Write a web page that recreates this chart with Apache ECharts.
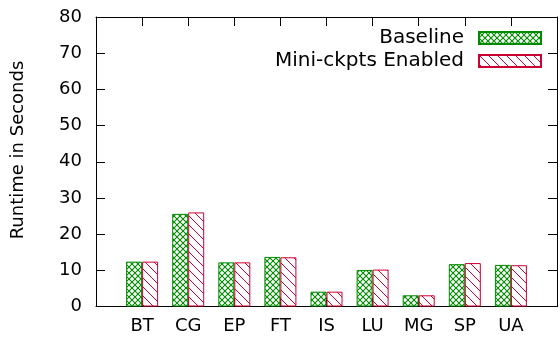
<!DOCTYPE html>
<html>
<head>
<meta charset="utf-8">
<script src="https://cdn.jsdelivr.net/npm/echarts@6/dist/echarts.min.js"></script>
<style>
  html, body { margin: 0; padding: 0; background: #fff; }
  #chart { width: 560px; height: 340px; }
</style>
</head>
<body>
<div id="chart"></div>
<script>
// Benchmarks and measured runtimes (seconds)
const categories = ['BT', 'CG', 'EP', 'FT', 'IS', 'LU', 'MG', 'SP', 'UA'];
const baseline = [12.4, 25.6, 12.2, 13.7, 4.1, 10.1, 3.1, 11.7, 11.5];
const miniCkpts = [12.4, 26.0, 12.2, 13.6, 4.1, 10.2, 3.1, 12.0, 11.4];
const seriesNames = ['Baseline', 'Mini-ckpts Enabled'];
const yTicks = { min: 0, max: 80, step: 10 };

const GREEN = '#008a00';
const RED = '#cc0033';
const FONT = 'DejaVu Sans';

// Cross-hatch fill for the baseline bars
function crossHatch(color) {
  const s = 6;
  const c = document.createElement('canvas');
  c.width = s; c.height = s;
  const g = c.getContext('2d');
  g.fillStyle = '#fff';
  g.fillRect(0, 0, s, s);
  g.strokeStyle = color;
  g.lineWidth = 1.1;
  g.beginPath();
  g.moveTo(0, 0); g.lineTo(s, s);
  g.moveTo(s, 0); g.lineTo(0, s);
  g.stroke();
  return c;
}

// Diagonal line fill for the mini-checkpoint bars
function diagLines(color) {
  const s = 9;
  const c = document.createElement('canvas');
  c.width = s; c.height = s;
  const g = c.getContext('2d');
  g.fillStyle = '#fff';
  g.fillRect(0, 0, s, s);
  g.strokeStyle = color;
  g.lineWidth = 1;
  g.beginPath();
  g.moveTo(-1, -1); g.lineTo(s + 1, s + 1);
  g.moveTo(-1, s - 1); g.lineTo(1, s + 1);
  g.moveTo(s - 1, -1); g.lineTo(s + 1, 1);
  g.stroke();
  return c;
}

const toPoints = arr => arr.map((v, i) => [i, v]);

const chart = echarts.init(document.getElementById('chart'), null, { renderer: 'canvas' });

const tickStyle = { show: true, inside: true, length: 9, lineStyle: { color: '#000', width: 1 } };
const lineStyle = { show: true, onZero: false, lineStyle: { color: '#000', width: 1 } };

const legendText = { fontFamily: FONT, fontSize: 20, color: '#000', lineHeight: 20, padding: [0, 10, 0, 0] };

chart.setOption({
  animation: false,
  backgroundColor: '#fff',
  textStyle: { fontFamily: FONT },
  grid: { left: 96, top: 17, width: 470, height: 289.5 },
  xAxis: [
    {
      type: 'value', position: 'bottom',
      min: -1, max: categories.length, interval: 1,
      axisLine: lineStyle, axisTick: tickStyle, splitLine: { show: false },
      axisLabel: {
        fontFamily: FONT, fontSize: 18, color: '#000', margin: 11,
        formatter: v => (categories[v] !== undefined ? categories[v] : '')
      }
    },
    {
      type: 'value', position: 'top',
      min: -1, max: categories.length, interval: 1,
      axisLine: lineStyle, axisTick: tickStyle, splitLine: { show: false },
      axisLabel: { show: false }
    }
  ],
  yAxis: [
    {
      type: 'value', position: 'left',
      min: yTicks.min, max: yTicks.max, interval: yTicks.step,
      axisLine: lineStyle, axisTick: tickStyle, splitLine: { show: false },
      axisLabel: { fontFamily: FONT, fontSize: 18, color: '#000', margin: 14 }
    },
    {
      type: 'value', position: 'right',
      min: yTicks.min, max: yTicks.max, interval: yTicks.step,
      axisLine: lineStyle, axisTick: tickStyle, splitLine: { show: false },
      axisLabel: { show: false }
    }
  ],
  legend: [
    {
      data: [{ name: seriesNames[0], icon: 'rect' }], right: 18, top: 28, padding: 0,
      align: 'right', itemWidth: 62, itemHeight: 12, selectedMode: false,
      textStyle: legendText
    },
    {
      data: [{ name: seriesNames[1], icon: 'rect' }], right: 18, top: 51, padding: 0,
      align: 'right', itemWidth: 62, itemHeight: 12, selectedMode: false,
      textStyle: legendText
    }
  ],
  graphic: [
    {
      type: 'text', x: 18, y: 150, rotation: Math.PI / 2,
      style: {
        text: 'Runtime in Seconds', fill: '#000',
        font: '18px "DejaVu Sans"', textAlign: 'center', textVerticalAlign: 'middle'
      }
    }
  ],
  series: [
    {
      name: seriesNames[0], type: 'bar',
      xAxisIndex: 0, yAxisIndex: 0,
      barWidth: 16, barGap: '0%',
      data: toPoints(baseline),
      itemStyle: {
        color: { image: crossHatch(GREEN), repeat: 'repeat' },
        borderColor: GREEN, borderWidth: 1
      }
    },
    {
      name: seriesNames[1], type: 'bar',
      xAxisIndex: 0, yAxisIndex: 0,
      barWidth: 16, barGap: '0%',
      data: toPoints(miniCkpts),
      itemStyle: {
        color: { image: diagLines(RED), repeat: 'repeat' },
        borderColor: RED, borderWidth: 1
      }
    }
  ]
});
</script>
</body>
</html>
